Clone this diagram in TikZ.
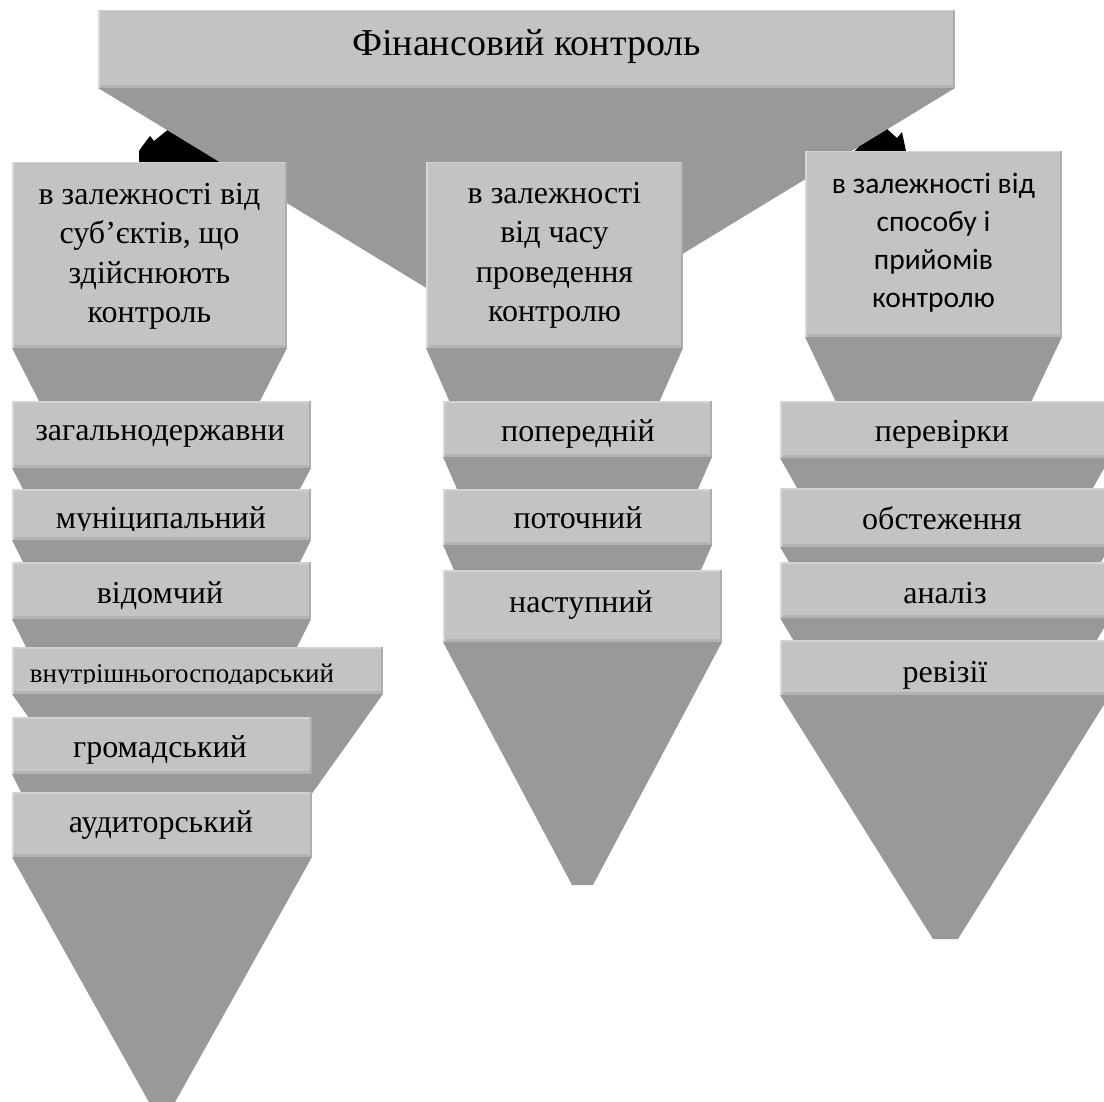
\documentclass[tikz,border=0pt]{standalone}
\usepackage{fontspec}
\setmainfont{Liberation Serif}
\newfontfamily\calib{Carlito}
\usetikzlibrary{calc}
\definecolor{boxgray}{HTML}{C3C3C3}
\definecolor{trigray}{HTML}{999999}
\definecolor{bevtop}{HTML}{D2D2D2}
\definecolor{bevbot}{HTML}{B3B3B3}
\definecolor{bevleft}{HTML}{D8D8D8}
\definecolor{bevright}{HTML}{ADADAD}
\tikzset{
  bx/.style={fill=boxgray, inner sep=0pt, outer sep=0pt, draw=none,
    path picture={
      \fill[bevtop] (path picture bounding box.north west) rectangle ([yshift=-1.5pt]path picture bounding box.north east);
      \fill[bevbot] (path picture bounding box.south west) rectangle ([yshift=3pt]path picture bounding box.south east);
      \fill[bevleft] (path picture bounding box.south west) rectangle ([xshift=2pt]path picture bounding box.north west);
      \fill[bevright] ([xshift=-2pt]path picture bounding box.south east) rectangle (path picture bounding box.north east);
    }},
  tri/.style={fill=trigray},
  arrowblob/.style={fill=black},
  lbl/.style={anchor=base, inner sep=0pt, outer sep=0pt, font=\fontsize{32}{39.5}\selectfont},
  hdr/.style={anchor=base, inner sep=0pt, outer sep=0pt, align=center, font=\fontsize{32}{39.5}\selectfont},
}
\newcommand{\fbx}[5]{\node[bx, minimum width=#4pt, minimum height=#5pt] (#1) at (#2,#3) {};}
\begin{document}
\begin{tikzpicture}[x=1pt,y=-1pt]
\useasboundingbox (0,0) rectangle (1104,1102);
\clip (0,0) rectangle (1104,1102);
% arrow heads (mostly hidden)
\fill[arrowblob] (139,165) -- (139,151) -- (141,148) -- (150,136) -- (154,141) -- (170,128) -- (200,120) -- (230,165) -- cycle;
\fill[arrowblob] (850,156) -- (880,124) -- (887,129) -- (897,138) -- (902,132) -- (907,156) -- cycle;
% top
\fbx{top}{526.5}{49}{857}{78}
\fill[tri] (top.south west) -- (top.south east) -- ($(top.south)+(0,261)$) -- cycle;
\fbx{top}{526.5}{49}{857}{78}
\node[lbl, font=\fontsize{38}{44}\selectfont] (topt) at (526.5,56) {Фінансовий контроль};
% left column
\fbx{h1}{149.5}{255}{275}{186}
\fill[tri] (h1.south west) -- (h1.south east) -- ($(h1.south)+(0,270)$) -- cycle;
\fbx{h1}{149.5}{255}{275}{186}
\fbx{l1}{161.5}{434.5}{299}{67}
\fill[tri] (l1.south west) -- (l1.south east) -- ($(l1.south)+(0,287)$) -- cycle;
\fbx{l1}{161.5}{434.5}{299}{67}
\fbx{l2}{161.5}{514.5}{299}{51}
\fill[tri] (l2.south west) -- (l2.south east) -- ($(l2.south)+(0,299)$) -- cycle;
\fbx{l2}{161.5}{514.5}{299}{51}
\fbx{l3}{161.5}{590.5}{299}{57}
\fill[tri] (l3.south west) -- (l3.south east) -- ($(l3.south)+(0,299)$) -- cycle;
\fbx{l3}{161.5}{590.5}{299}{57}
\fbx{l4}{197.5}{670.5}{371}{47}
\fill[tri] (l4.south west) -- (l4.south east) -- ($(l4.south)+(0,260)$) -- cycle;
\fbx{l4}{197.5}{670.5}{371}{47}
\fbx{l5}{162}{745.5}{300}{57}
\fill[tri] (l5.south west) -- (l5.south east) -- ($(l5.south)+(0,300)$) -- cycle;
\fbx{l5}{162}{745.5}{300}{57}
\fbx{l6}{162}{824.5}{300}{65}
\fill[tri] (l6.south west) -- (l6.south east) -- (174,1104) -- (150,1104) -- cycle;
\fbx{l6}{162}{824.5}{300}{65}
% middle column
\fbx{h2}{554.5}{255}{257}{186}
\fill[tri] (h2.south west) -- (h2.south east) -- ($(h2.south)+(0,292)$) -- cycle;
\fbx{h2}{554.5}{255}{257}{186}
\fbx{m1}{577.5}{429}{269}{56}
\fill[tri] (m1.south west) -- (m1.south east) -- ($(m1.south)+(0,306)$) -- cycle;
\fbx{m1}{577.5}{429}{269}{56}
\fbx{m2}{577.5}{517}{269}{56}
\fill[tri] (m2.south west) -- (m2.south east) -- ($(m2.south)+(0,306)$) -- cycle;
\fbx{m2}{577.5}{517}{269}{56}
\fbx{m3}{582.5}{606}{279}{72}
\fill[tri] (m3.south west) -- (m3.south east) -- (593,885) -- (572,885) -- cycle;
\fbx{m3}{582.5}{606}{279}{72}
% right column
\fbx{h3}{933.5}{244}{257}{186}
\fill[tri] (h3.south west) -- (h3.south east) -- ($(h3.south)+(0,270)$) -- cycle;
\fbx{h3}{933.5}{244}{257}{186}
\fbx{r1}{945}{429.5}{330}{57}
\fill[tri] (r1.south west) -- (r1.south east) -- ($(r1.south)+(0,290)$) -- cycle;
\fbx{r1}{945}{429.5}{330}{57}
\fbx{r2}{945}{517.5}{330}{59}
\fill[tri] (r2.south west) -- (r2.south east) -- ($(r2.south)+(0,275)$) -- cycle;
\fbx{r2}{945}{517.5}{330}{59}
\fbx{r3}{945}{590}{330}{56}
\fill[tri] (r3.south west) -- (r3.south east) -- ($(r3.south)+(0,275)$) -- cycle;
\fbx{r3}{945}{590}{330}{56}
\fbx{r4}{945}{667.5}{330}{55}
\fill[tri] (r4.south west) -- (r4.south east) -- (958,939) -- (933,939) -- cycle;
\fbx{r4}{945}{667.5}{330}{55}
% header texts
\node[hdr] (h1t) at (149.5,323) {в залежності від\\суб’єктів, що\\здійснюють\\контроль};
\node[hdr] (h2t) at (554.5,322) {в залежності\\від часу\\проведення\\контролю};
\node[hdr, font=\calib\fontsize{29.5}{38}\selectfont] (h3t) at (933.5,308) {в залежності від\\способу і\\прийомів\\контролю};
% left items
\node[lbl] (l1t) at (160,440) {загальнодержавни};
\begin{scope}
\clip (12,480) rectangle (311,530);
\node[lbl] (l2t) at (161,528) {муніципальний};
\end{scope}
\node[lbl] (l3t) at (160,603) {відомчий};
\begin{scope}
\clip (12,640) rectangle (383,683.5);
\node[lbl, font=\fontsize{27}{30}\selectfont] (l4t) at (182,682) {внутрішньогосподарський};
\end{scope}
\node[lbl] (l5t) at (160,757) {громадський};
\node[lbl] (l6t) at (161,832) {аудиторський};
% middle items
\node[lbl] (m1t) at (578,441) {попередній};
\node[lbl] (m2t) at (578,528) {поточний};
\node[lbl] (m3t) at (581,612) {наступний};
% right items
\node[lbl] (r1t) at (942,441) {перевірки};
\node[lbl] (r2t) at (942,529) {обстеження};
\node[lbl] (r3t) at (945,603) {аналіз};
\node[lbl] (r4t) at (945,682) {ревізії};
\end{tikzpicture}
\end{document}
